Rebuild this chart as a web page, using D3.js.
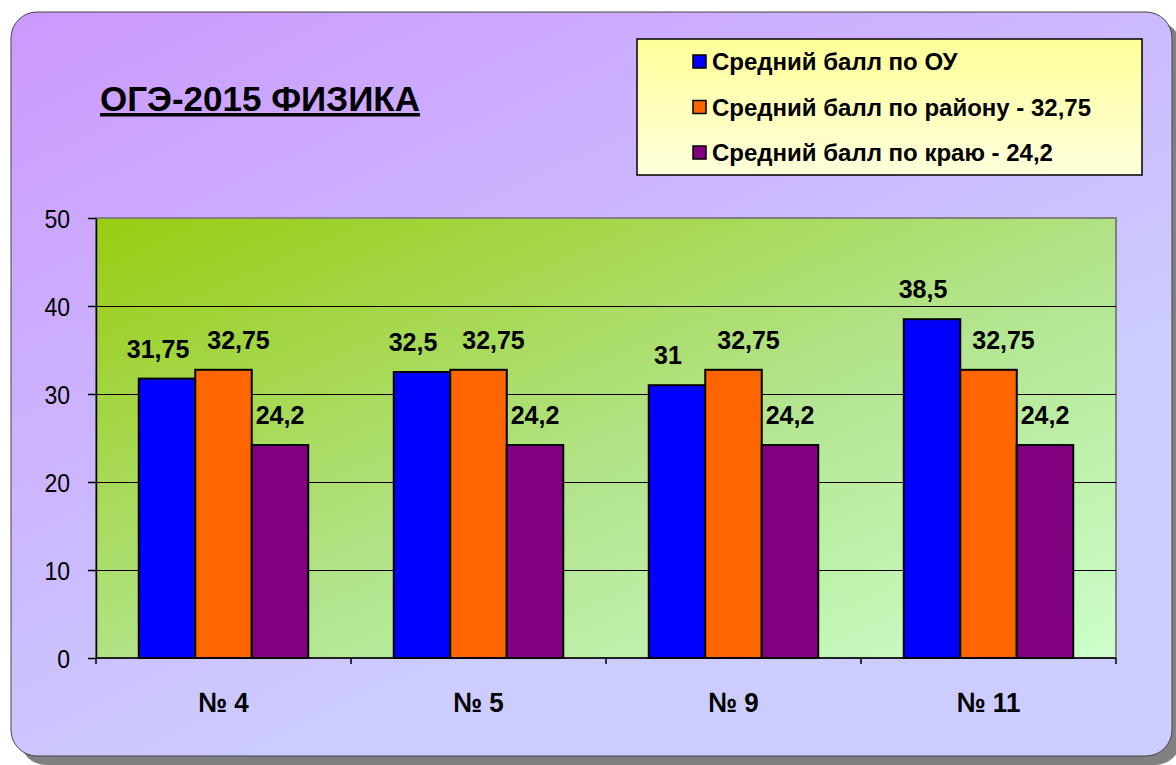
<!DOCTYPE html>
<html>
<head>
<meta charset="utf-8">
<script src="https://cdn.jsdelivr.net/npm/d3@7"></script>
<style>
  body { margin: 0; background: #fff; }
  svg text { font-family: "Liberation Sans", Arial, sans-serif; }
</style>
</head>
<body>
<div id="root"></div>
<script>

const categories = ["№ 4", "№ 5", "№ 9", "№ 11"]
const seriesNames = ["Средний балл по ОУ", "Средний балл по району -  32,75", "Средний балл по краю -  24,2"]
const ouScores = [31.75, 32.5, 31, 38.5]
const districtScores = [32.75, 32.75, 32.75, 32.75]
const regionScores = [24.2, 24.2, 24.2, 24.2]
const yTicks = [0, 10, 20, 30, 40, 50]
const titleText = "ОГЭ-2015 ФИЗИКА"

const seriesColors = ["#0000FF", "#FF6600", "#800080"]
// excel nudged the labels sideways a bit, per series
const labelShift = [-9, 15, 0]

const W = 1176, H = 765
const margin = {top: 218, right: 60, bottom: 107, left: 96}
const width = W - margin.left - margin.right
const height = H - margin.top - margin.bottom

const seriesValues = [ouScores, districtScores, regionScores]

const svg = d3.select("#root").append("svg")
  .attr("width", W)
  .attr("height", H)

const defs = svg.append("defs")

const bgGrad = defs.append("linearGradient").attr("id", "bg_grad")
  .attr("x1", 0).attr("y1", 0).attr("x2", 0.55).attr("y2", 0.75)
bgGrad.append("stop").attr("offset", 0).attr("stop-color", "#CC99FF")
bgGrad.append("stop").attr("offset", 1).attr("stop-color", "#CCCCFF")

const plotGrad = defs.append("linearGradient").attr("id", "plot_grad")
  .attr("x1", 0).attr("y1", 0).attr("x2", 1).attr("y2", 1)
plotGrad.append("stop").attr("offset", 0).attr("stop-color", "#99CC11")
plotGrad.append("stop").attr("offset", 0.55).attr("stop-color", "#B3E48E")
plotGrad.append("stop").attr("offset", 1).attr("stop-color", "#CCFFCC")

const legendGrad = defs.append("linearGradient").attr("id", "legend_grad")
  .attr("x1", 0).attr("y1", 0).attr("x2", 0).attr("y2", 1)
legendGrad.append("stop").attr("offset", 0).attr("stop-color", "#FFFF99")
legendGrad.append("stop").attr("offset", 1).attr("stop-color", "#FFFFDD")

// chart area with its shadow
svg.append("rect")
  .attr("x", 20).attr("y", 21).attr("width", 1161).attr("height", 744)
  .attr("rx", 26)
  .style("fill", "#808080")
svg.append("rect")
  .attr("x", 11).attr("y", 12).attr("width", 1161).attr("height", 744)
  .attr("rx", 26)
  .style("fill", "url(#bg_grad)")
  .style("stroke", "#444").style("stroke-width", 1)

// title
svg.append("text")
  .attr("x", 100).attr("y", 111)
  .style("font-size", "35px").style("font-weight", "bold")
  .style("text-decoration", "underline")
  .text(titleText)

// legend
const legend = svg.append("g").attr("transform", "translate(637,39)")
legend.append("rect")
  .attr("width", 505).attr("height", 136)
  .style("fill", "url(#legend_grad)")
  .style("stroke", "#000").style("stroke-width", 1.5)

const legendRow = legend.selectAll("g.item")
  .data(seriesNames)
  .enter()
  .append("g")
  .attr("class", "item")
  .attr("transform", (d, i) => "translate(0," + (23 + i * 45.5) + ")")
legendRow.append("rect")
  .attr("x", 56).attr("y", -7).attr("width", 13).attr("height", 13)
  .style("fill", (d, i) => seriesColors[i])
  .style("stroke", "#000").style("stroke-width", 1.5)
legendRow.append("text")
  .attr("x", 75).attr("y", 8)
  .style("font-size", "24px").style("font-weight", "bold")
  .text(d => d)

// plot
const g = svg.append("g")
  .attr("transform", "translate(" + margin.left + "," + margin.top + ")")

const x0 = d3.scaleBand()
  .domain(categories)
  .range([0, width])

const x1 = d3.scaleBand()
  .domain(d3.range(seriesNames.length))
  .range([0, x0.bandwidth()])
  .paddingInner(0)
  .paddingOuter(0.757)

const y = d3.scaleLinear()
  .domain([0, 50])
  .range([height, 0])

g.append("rect")
  .attr("width", width).attr("height", height)
  .style("fill", "url(#plot_grad)")
  .style("stroke", "#808080").style("stroke-width", 2)

g.append("g")
  .selectAll("line")
  .data(yTicks.slice(1, -1))
  .enter()
  .append("line")
  .attr("x1", 0).attr("x2", width)
  .attr("y1", d => Math.round(y(d)) + 0.5).attr("y2", d => Math.round(y(d)) + 0.5)
  .style("stroke", "#000").style("stroke-width", 1)

const yAxis = g.append("g")
  .call(d3.axisLeft(y).tickValues(yTicks).tickSize(8).tickSizeOuter(0).tickPadding(18))
yAxis.selectAll("text")
  .style("font-size", "23px")
  .style("fill", "#000")
  .attr("dy", "0.36em")
  .attr("transform", "scale(1,1.15)")
yAxis.selectAll("line, path").style("stroke", "#000").style("stroke-width", 1.5)

// bars
const groups = g.selectAll("g.group")
  .data(categories)
  .enter()
  .append("g")
  .attr("class", "group")
  .attr("transform", d => "translate(" + x0(d) + ",0)")

groups.selectAll("rect")
  .data((c, ci) => seriesValues.map((vals, si) => ({si: si, v: vals[ci]})))
  .enter()
  .append("rect")
  .attr("x", d => x1(d.si))
  .attr("y", d => y(d.v))
  .attr("width", x1.bandwidth())
  .attr("height", d => height - y(d.v))
  .style("fill", d => seriesColors[d.si])
  .style("stroke", "#000")
  .style("stroke-width", 2)

groups.selectAll("text")
  .data((c, ci) => seriesValues.map((vals, si) => ({si: si, v: vals[ci]})))
  .enter()
  .append("text")
  .attr("transform", d => "translate(" + (x1(d.si) + x1.bandwidth() / 2 + labelShift[d.si]) + "," + (y(d.v) - 21) + ") scale(1,1.06)")
  .attr("text-anchor", "middle")
  .style("font-size", "25px").style("font-weight", "bold")
  .text(d => String(d.v).replace(".", ","))

// category axis
const xAxis = g.append("g").attr("transform", "translate(0," + height + ")")
xAxis.append("line")
  .attr("x1", 0).attr("x2", width)
  .style("stroke", "#000").style("stroke-width", 1.5)
xAxis.selectAll("line.tick")
  .data(categories.map(c => x0(c)).concat([width]))
  .enter()
  .append("line")
  .attr("class", "tick")
  .attr("x1", d => d).attr("x2", d => d)
  .attr("y1", 0).attr("y2", 6)
  .style("stroke", "#000").style("stroke-width", 1.5)
xAxis.selectAll("text")
  .data(categories)
  .enter()
  .append("text")
  .attr("transform", d => "translate(" + (x0(d) + x0.bandwidth() / 2) + ",54) scale(1,1.08)")
  .attr("text-anchor", "middle")
  .style("font-size", "26px").style("font-weight", "bold")
  .text(d => d)

</script>
</body>
</html>
